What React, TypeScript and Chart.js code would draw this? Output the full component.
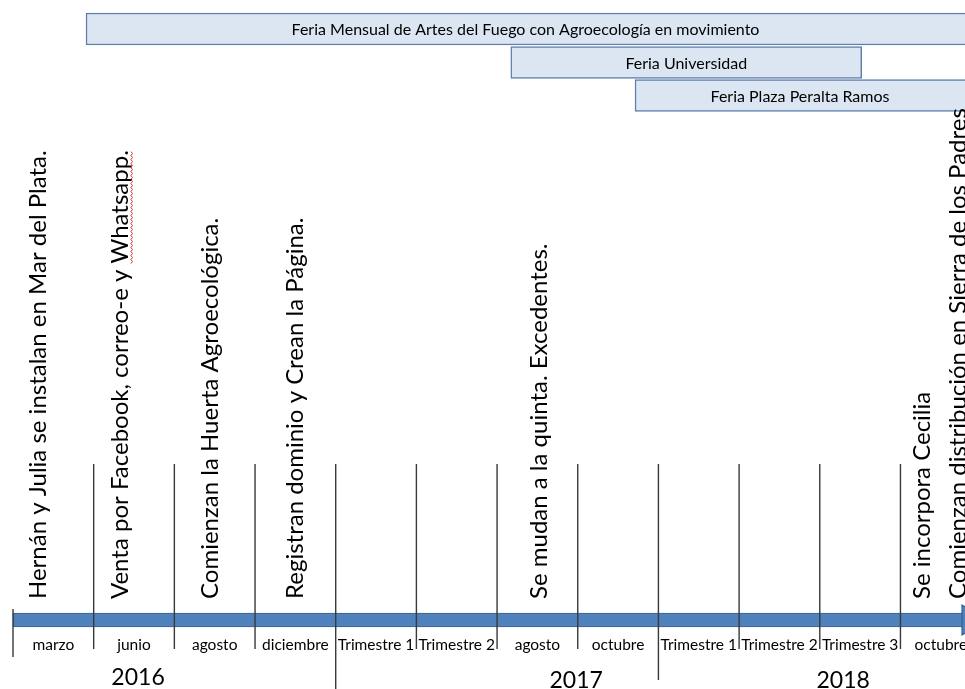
import React, { useEffect, useRef } from "react";
import { Chart, registerables } from "chart.js";

Chart.register(...registerables);

// ---- data ----
const periods = [
  "marzo", "junio", "agosto", "diciembre",
  "Trimestre 1", "Trimestre 2", "agosto", "octubre",
  "Trimestre 1", "Trimestre 2", "Trimestre 3", "octubre",
];
const yearLabels = ["2016", "2017", "2018"];
const yearFirstPeriod = [0, 4, 8];
const yearLabelAt = [1.05, 6.48, 9.79];

const feriaNames = [
  "Feria Mensual de Artes del Fuego con Agroecología en movimiento",
  "Feria Universidad",
  "Feria Plaza Peralta Ramos",
];
const feriaStart = [0.405, 5.67, 7.21];
const feriaEnd = [12.5, 10.02, 12.5];

const eventTexts = [
  "Hernán y Julia se instalan en Mar del Plata.",
  "Venta por Facebook, correo-e y Whatsapp.",
  "Comienzan la Huerta Agroecológica.",
  "Registran dominio y Crean la Página.",
  "Se mudan a la quinta. Excedentes.",
  "Se incorpora Cecilia",
  "Comienzan distribución en Sierra de los Padres",
];
const eventAt = [-0.09, 0.925, 2.04, 3.094, 6.117, 10.863, 11.309];

// ---- layout (vertical units of the y scale) ----
const FERIA_ROW_Y = [29, 62.5, 95.5];
const FERIA_BAR_H = 32;
const AXIS_Y = 620;
const AXIS_H = 14;
const SEP_TOP = 464;
const SEP_BOTTOM = 649;
const FIRST_SEP = [609, 657];
const YEAR_SEP_BOTTOM = [689, 680];
const PERIOD_LABEL_Y = 645;
const YEAR_LABEL_Y = [678, 681, 681];
const EVENT_BASE_Y = 599;

const FONT = "Lato, 'Open Sans', sans-serif";

export default function App() {
  const ref = useRef<HTMLCanvasElement | null>(null);

  useEffect(() => {
    if (!ref.current) return;

    // separator lines
    const sepData: any[] = [];
    sepData.push({ x: -0.5, y: FIRST_SEP[0] }, { x: -0.5, y: FIRST_SEP[1] }, { x: -0.5, y: NaN });
    for (let k = 1; k < periods.length; k++) {
      const yi = yearFirstPeriod.indexOf(k);
      const bottom = yi > 0 ? YEAR_SEP_BOTTOM[yi - 1] : SEP_BOTTOM;
      sepData.push({ x: k - 0.5, y: SEP_TOP }, { x: k - 0.5, y: bottom }, { x: k - 0.5, y: NaN });
    }

    const textPlugin = {
      id: "timelineText",
      afterDatasetsDraw(chart: any) {
        const ctx = chart.ctx;
        const xs = chart.scales.x;
        const ys = chart.scales.y;
        ctx.save();
        ctx.fillStyle = "#000";

        // feria labels
        const meta = chart.getDatasetMeta(2);
        ctx.font = `16px ${FONT}`;
        ctx.textAlign = "center";
        ctx.textBaseline = "middle";
        meta.data.forEach((el: any, i: number) => {
          const l = Math.max(Math.min(el.x, el.base), chart.chartArea.left);
          const r = Math.min(Math.max(el.x, el.base), chart.width);
          ctx.fillText(feriaNames[i], (l + r) / 2, el.y + 1);
        });

        // period labels
        ctx.font = `15.5px ${FONT}`;
        periods.forEach((p, i) => {
          ctx.fillText(p, xs.getPixelForValue(i), ys.getPixelForValue(PERIOD_LABEL_Y));
        });

        // year labels
        ctx.font = `23px ${FONT}`;
        yearLabels.forEach((y, i) => {
          ctx.fillText(y, xs.getPixelForValue(yearLabelAt[i]), ys.getPixelForValue(YEAR_LABEL_Y[i]));
        });

        // events (rotated)
        ctx.font = `24px ${FONT}`;
        ctx.textAlign = "left";
        ctx.textBaseline = "alphabetic";
        eventTexts.forEach((t, i) => {
          ctx.save();
          ctx.translate(xs.getPixelForValue(eventAt[i]), ys.getPixelForValue(EVENT_BASE_Y));
          ctx.rotate(-Math.PI / 2);
          ctx.fillText(t, 0, 0);
          if (i === 1) {
            // spell-check squiggle under "Whatsapp"
            const word = "Whatsapp";
            const start = ctx.measureText(t.slice(0, t.indexOf(word))).width;
            const w = ctx.measureText(word + ".").width;
            ctx.strokeStyle = "#e03030";
            ctx.lineWidth = 1;
            ctx.beginPath();
            for (let s = 0; s <= w; s += 2) {
              const yy = 3 + ((s / 2) % 2 === 0 ? 0 : 1.5);
              if (s === 0) ctx.moveTo(start + s, yy);
              else ctx.lineTo(start + s, yy);
            }
            ctx.stroke();
          }
          ctx.restore();
        });
        ctx.restore();
      },
    };

    const chart = new Chart(ref.current, {
      type: "bar",
      data: {
        datasets: [
          {
            type: "line",
            label: "separadores",
            data: sepData,
            borderColor: "#3a3a3a",
            borderWidth: 1.4,
            pointRadius: 0,
            spanGaps: false,
            clip: false,
            order: 0,
          } as any,
          {
            type: "scatter",
            label: "flecha",
            data: [{ x: 11.37, y: AXIS_Y }],
            pointStyle: "triangle",
            rotation: 90,
            pointRadius: 17,
            backgroundColor: "#4f81bd",
            borderColor: "#3a679c",
            borderWidth: 1.5,
            clip: false,
            order: 1,
          } as any,
          {
            type: "bar",
            label: "ferias",
            indexAxis: "y",
            data: feriaNames.map((_, i) => ({ x: [feriaStart[i], feriaEnd[i]], y: FERIA_ROW_Y[i] })),
            barThickness: FERIA_BAR_H,
            grouped: false,
            backgroundColor: "#dce6f2",
            borderColor: "#5f7fab",
            borderWidth: 1.5,
            borderSkipped: false,
            clip: false,
            order: 3,
          } as any,
          {
            type: "bar",
            label: "eje",
            indexAxis: "y",
            data: [{ x: [-0.5, 11.35], y: AXIS_Y }],
            barThickness: AXIS_H,
            grouped: false,
            backgroundColor: "#4f81bd",
            borderColor: "#3a679c",
            borderWidth: 1.5,
            borderSkipped: false,
            clip: false,
            order: 2,
          } as any,
        ],
      },
      options: {
        responsive: false,
        devicePixelRatio: 1,
        animation: false,
        events: [],
        layout: { autoPadding: false, padding: { left: 13, right: 0, top: 0, bottom: 0 } },
        plugins: { legend: { display: false }, tooltip: { enabled: false } },
        scales: {
          x: { type: "linear", min: -0.5, max: 11.3, offset: false, grace: 0, display: false },
          y: { type: "linear", min: 0, max: 689, reverse: true, offset: false, grace: 0, display: false },
        },
      } as any,
      plugins: [textPlugin],
    });
    return () => chart.destroy();
  }, []);

  return (
    <div style={{ position: "absolute", left: 0, top: 0, width: 965, height: 689, background: "#fff" }}>
      <canvas ref={ref} width={965} height={689} style={{ display: "block" }} />
    </div>
  );
}
